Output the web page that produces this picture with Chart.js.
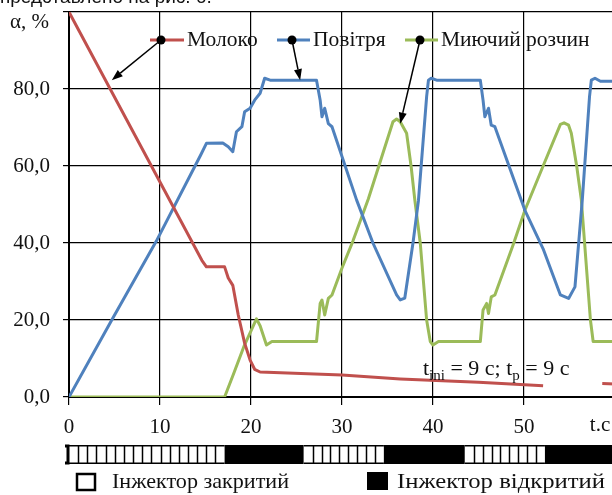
<!DOCTYPE html>
<html>
<head>
<meta charset="utf-8">
<script src="https://cdn.jsdelivr.net/npm/chart.js@4.4.1/dist/chart.umd.min.js"></script>
<style>
html, body { margin: 0; padding: 0; background: #fff; width: 612px; height: 495px; overflow: hidden; }
#wrap { position: absolute; left: 0; top: 0; width: 620px; height: 495px; }
#cap { position: absolute; left: 0; top: -14px; z-index: 2; font: 19px "Liberation Sans", Arial, sans-serif; white-space: nowrap; color: #111; }
</style>
</head>
<body>
<div id="cap">представлено на рис. 6.</div>
<div id="wrap"><canvas id="c" width="620" height="495"></canvas></div>
<script>
// series names
const seriesNames = ['Молоко', 'Повітря', 'Миючий розчин'];

// Молоко
const milkT = [0, 14.6, 15.1, 17.1, 17.5, 18.0, 18.6, 19.3, 19.9, 20.4, 21.0, 30, 36.4, 45, 52.1, 52.2, 58.6, 60];
const milkV = [100, 35.5, 33.8, 33.8, 30.9, 29.0, 21.3, 14.0, 9.6, 7.2, 6.5, 5.7, 4.7, 3.8, 2.9, null, 3.5, 3.4];

// Повітря
const airT = [0, 4.7, 9.6, 14.5, 15.1, 16.9, 17.5, 18.0, 18.4, 19.0, 19.3, 19.9, 20.4, 21.0, 21.5, 22.1, 27.2, 27.6, 27.8, 28.1, 28.5, 28.9,
  31.6, 33.4, 36.0, 36.4, 36.9, 37.8, 38.4, 39.3, 39.5, 39.8, 40.4, 45.2, 45.5, 45.7, 46.1, 46.4, 46.8,
  50.1, 52.1, 54.0, 54.9, 55.6, 56.4, 57.2, 57.4, 57.8, 58.4, 60];
const airV = [0, 20, 40.5, 63, 65.9, 66.0, 65.0, 63.7, 68.9, 70.2, 74.1, 75.0, 77.1, 78.9, 82.8, 82.3, 82.3, 77.1, 72.8, 75.0, 71.0, 70.2,
  51.2, 40, 26.5, 25.2, 25.7, 40, 51, 78, 82.3, 82.8, 82.3, 82.3, 77.1, 72.8, 75.0, 70.6, 70.2,
  48.5, 38.5, 26.5, 25.6, 28.6, 51, 78, 82.3, 82.8, 82.0, 82.0];

// Миючий розчин
const washT = [0, 17.1, 18.1, 19.2, 20.6, 21.0, 21.7, 22.3, 27.2, 27.6, 27.8, 28.1, 28.5, 28.9, 30, 31.2, 32.9, 35.6, 36.0, 36.4,
  37.1, 37.6, 38.0, 38.6, 39.3, 39.7, 40.0, 40.6, 45.2, 45.5, 45.9, 46.1, 46.4, 46.8, 48.8, 50.1, 52.1, 54.0, 54.4, 54.9,
  55.2, 55.8, 56.3, 57.3, 57.6, 58.4, 60];
const washV = [0, 0, 6.1, 13, 20.3, 18.5, 13.5, 14.4, 14.4, 24.3, 25.2, 21.3, 25.6, 26.5, 33.5, 40.5, 51.5, 71.5, 72.2, 71.5,
  68.5, 59.8, 51.2, 40, 20, 14.4, 13.5, 14.4, 14.4, 22.6, 24.3, 21.7, 26.0, 26.5, 39.5, 48.5, 60, 70.8, 71.2, 70.6,
  68.5, 59.8, 51.2, 20, 14.4, 14.4, 14.4];

// injector: period edges (s) and state
const injectorEdges = [0, 17.1, 25.8, 34.6, 43.5, 52.3, 61];
const injectorOpen = [false, true, false, true, false, true];
const injectorLabels = ['Інжектор закритий', 'Інжектор відкритий'];

const serif = '"Liberation Serif", "Times New Roman", serif';
const colors = ['#c0504d', '#4f81bd', '#9bbb59'];

function pts(t, v) { return t.map((x, i) => ({ x: x, y: v[i] })); }

function arrow(ctx, x0, y0, x1, y1) {
  const a = Math.atan2(y1 - y0, x1 - x0);
  const L = 11, W = 4;
  ctx.beginPath();
  ctx.moveTo(x0, y0);
  ctx.lineTo(x1 - L * Math.cos(a), y1 - L * Math.sin(a));
  ctx.stroke();
  ctx.beginPath();
  ctx.moveTo(x1, y1);
  ctx.lineTo(x1 - L * Math.cos(a) + W * Math.sin(a), y1 - L * Math.sin(a) - W * Math.cos(a));
  ctx.lineTo(x1 - L * Math.cos(a) - W * Math.sin(a), y1 - L * Math.sin(a) + W * Math.cos(a));
  ctx.closePath();
  ctx.fill();
}

// text squeezed/stretched to a given width
function fitText(ctx, s, x, y, w) {
  const k = w / ctx.measureText(s).width;
  ctx.save();
  ctx.translate(x, y);
  ctx.scale(k, 1);
  ctx.fillText(s, 0, 0);
  ctx.restore();
}

// legend layout: line from x0 to x1, dot, text start, arrow target (data coords)
const legendLayout = [
  { x0: 150, x1: 184, dot: 161, tx: 187, to: [4.7, 82.3] },
  { x0: 277, x1: 310, dot: 292, tx: 313, to: [25.4, 82.3] },
  { x0: 405, x1: 438, dot: 420, tx: 441, to: [36.4, 71] }
];

const overlay = {
  id: 'overlay',
  afterDraw(chart) {
    const ctx = chart.ctx, xs = chart.scales.x, ys = chart.scales.y;
    ctx.save();
    ctx.fillStyle = '#111';
    ctx.font = '21px ' + serif;
    ctx.textBaseline = 'middle';
    ctx.textAlign = 'left';
    ctx.fillText('α, %', 10, 22);
    ctx.textAlign = 'center';
    ctx.fillText('t.c', 600, 425);

    // legend with arrows
    const ly = 40;
    legendLayout.forEach((l, i) => {
      ctx.strokeStyle = colors[i];
      ctx.lineWidth = 3;
      ctx.beginPath(); ctx.moveTo(l.x0, ly); ctx.lineTo(l.x1, ly); ctx.stroke();
      ctx.fillStyle = '#000';
      ctx.beginPath(); ctx.arc(l.dot, ly, 4.5, 0, Math.PI * 2); ctx.fill();
      ctx.strokeStyle = '#000';
      ctx.lineWidth = 1.5;
      arrow(ctx, l.dot, ly, xs.getPixelForValue(l.to[0]), ys.getPixelForValue(l.to[1]));
      ctx.fillStyle = '#111';
      ctx.textAlign = 'left';
      ctx.font = '21.5px ' + serif;
      ctx.fillText(seriesNames[i], l.tx, ly);
    });

    // t_ini = 9 c; t_p = 9 c
    ctx.textBaseline = 'alphabetic';
    let x = 423;
    const by = 375;
    const parts = [['t', 0], ['ini', 1], [' = 9 c; t', 0], ['p', 1], [' = 9 c', 0]];
    parts.forEach(p => {
      ctx.font = (p[1] ? '15px ' : '22px ') + serif;
      ctx.fillText(p[0], x, by + (p[1] ? 5 : 0));
      x += ctx.measureText(p[0]).width;
    });

    // injector strip
    const top = 445, h = 19;
    ctx.lineWidth = 1.5;
    ctx.strokeStyle = '#000';
    for (let i = 0; i < injectorOpen.length; i++) {
      const a = xs.getPixelForValue(injectorEdges[i]);
      const b = Math.min(xs.getPixelForValue(injectorEdges[i + 1]), 640);
      if (injectorOpen[i]) {
        ctx.fillStyle = '#000';
        ctx.fillRect(a, top, b - a, h);
      } else {
        ctx.fillStyle = '#fff';
        ctx.fillRect(a, top, b - a, h);
        ctx.beginPath();
        ctx.moveTo(a, top + 0.75); ctx.lineTo(b, top + 0.75);
        ctx.moveTo(a, top + h - 0.75); ctx.lineTo(b, top + h - 0.75);
        const n = Math.round(injectorEdges[i + 1] - injectorEdges[i]);
        for (let k = 1; k < n; k++) {
          const px = Math.round(a + (b - a) * k / n) + 0.5;
          ctx.moveTo(px, top); ctx.lineTo(px, top + h);
        }
        ctx.stroke();
      }
    }
    // left bracket
    const x0 = xs.getPixelForValue(0);
    ctx.lineWidth = 3;
    ctx.beginPath();
    ctx.moveTo(x0 - 4, top + 1); ctx.lineTo(x0 - 1, top + 1); ctx.lineTo(x0 - 1, top + h - 1); ctx.lineTo(x0 - 4, top + h - 1);
    ctx.stroke();

    // injector legend
    ctx.lineWidth = 2.5;
    ctx.strokeStyle = '#000';
    ctx.strokeRect(77, 474, 18, 16);
    ctx.fillStyle = '#000';
    ctx.fillRect(367, 472, 21, 18);
    ctx.fillStyle = '#111';
    ctx.font = '22px ' + serif;
    ctx.textBaseline = 'middle';
    ctx.textAlign = 'left';
    fitText(ctx, injectorLabels[0], 112, 482, 177);
    fitText(ctx, injectorLabels[1], 397, 482, 208);
    ctx.restore();
  }
};

new Chart(document.getElementById('c'), {
  type: 'line',
  data: {
    datasets: [
      { label: seriesNames[0], data: pts(milkT, milkV), borderColor: colors[0] },
      { label: seriesNames[1], data: pts(airT, airV), borderColor: colors[1] },
      { label: seriesNames[2], data: pts(washT, washV), borderColor: colors[2] }
    ]
  },
  options: {
    responsive: false,
    animation: false,
    spanGaps: false,
    layout: { padding: { top: 12, right: 5, left: 0, bottom: 0 } },
    plugins: { legend: { display: false }, tooltip: { enabled: false } },
    elements: { point: { radius: 0 }, line: { borderWidth: 3, tension: 0, borderJoinStyle: 'round' } },
    scales: {
      x: {
        type: 'linear', min: 0, max: 60,
        ticks: { stepSize: 10, color: '#111', font: { family: serif, size: 21 }, padding: 10, maxRotation: 0,
          callback: v => v === 60 ? '' : String(v) },
        grid: { color: '#000', lineWidth: 1.2, tickLength: 8 },
        border: { color: '#000', width: 2 },
        afterFit: s => { s.height = 98; s.paddingLeft = 0; s.paddingRight = 0; }
      },
      y: {
        min: 0, max: 100,
        ticks: { stepSize: 20, color: '#111', font: { family: serif, size: 21 }, padding: 13,
          callback: v => v === 100 ? '' : v.toFixed(1).replace('.', ',') },
        grid: { color: '#000', lineWidth: 1.2, tickLength: 6 },
        border: { color: '#000', width: 2 },
        afterFit: s => { s.width = 69; s.paddingTop = 0; s.paddingBottom = 0; }
      }
    }
  },
  plugins: [overlay]
});
</script>
</body>
</html>
